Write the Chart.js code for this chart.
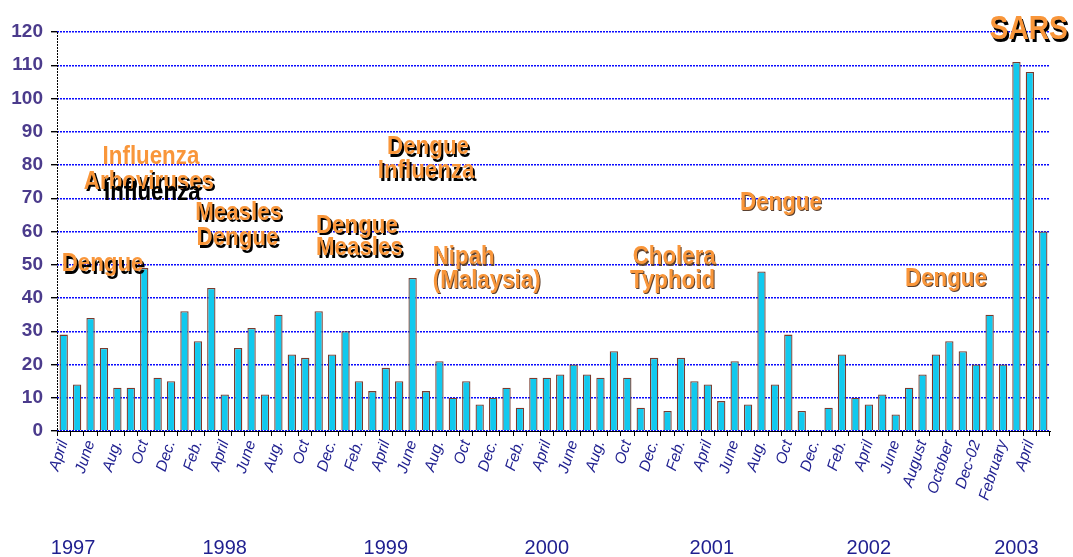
<!DOCTYPE html>
<html>
<head>
<meta charset="utf-8">
<script src="https://cdn.jsdelivr.net/npm/chart.js@4/dist/chart.umd.min.js"></script>
<style>
  html, body { margin: 0; padding: 0; background: #fff; }
  canvas { display: block; }
</style>
</head>
<body>
<canvas id="cases" width="1073" height="557"></canvas>
<script>
// monthly outbreak counts, April 1997 .. May 2003 (Dec 2001 has no bar)
const monthLabels = [
  'April', '', 'June', '', 'Aug.', '', 'Oct', '', 'Dec.', '', 'Feb.', '',
  'April', '', 'June', '', 'Aug.', '', 'Oct', '', 'Dec.', '', 'Feb.', '',
  'April', '', 'June', '', 'Aug.', '', 'Oct', '', 'Dec.', '', 'Feb.', '',
  'April', '', 'June', '', 'Aug.', '', 'Oct', '', 'Dec.', '', 'Feb.', '',
  'April', '', 'June', '', 'Aug.', '', 'Oct', '', 'Dec.', '', 'Feb.', '',
  'April', '', 'June', '', 'August', '', 'October', '', 'Dec-02', '', 'February', '',
  'April', ''
];
const caseCounts = [
  29, 14, 34, 25, 13, 13, 49, 16, 15, 36, 27, 43,
  11, 25, 31, 11, 35, 23, 22, 36, 23, 30, 15, 12,
  19, 15, 46, 12, 21, 10, 15, 8, 10, 13, 7, 16,
  16, 17, 20, 17, 16, 24, 16, 7, 22, 6, 22, 15,
  14, 9, 21, 8, 48, 14, 29, 6, null, 7, 23, 10,
  8, 11, 5, 13, 17, 23, 27, 24, 20, 35, 20, 111,
  108, 60
];
const yTickValues = [0, 10, 20, 30, 40, 50, 60, 70, 80, 90, 100, 110, 120];

const yearLabels = ['1997', '1998', '1999', '2000', '2001', '2002', '2003'];
const yearAt = [0.7, 12, 24, 36, 48.3, 60, 71]; // category index under each year

// outbreak notes: text, category index (left edge), value (middle), shadow strength
const noteTexts = ['Influenza', 'Arboviruses', 'Influenza', 'Measles', 'Dengue', 'Dengue',
  'Dengue', 'Measles', 'Dengue', 'Influenza', 'Nipah', '(Malaysia)', 'Cholera', 'Typhoid',
  'Dengue', 'Dengue', 'SARS'];
const noteAt = [2.9, 1.5, 3.0, 9.8, 9.9, -0.15, 18.8, 18.8, 24.1, 23.4, 27.5, 27.5, 42.4, 42.2,
  50.4, 62.7, 69];
const noteValue = [82.5, 75, 71.8, 65.6, 58, 50.2, 61.7, 55, 85.4, 78.2, 52.3, 45.1, 52.3, 45.1,
  68.6, 45.7, 120.6];
const noteShadow = [0, 2, -1, 2, 2, 2, 2, 2, 2, 2, 1, 1, 1, 1, 1, 1, 2];

const ORANGE = '#f9963a';
const NAVY = '#1f1f8f';

const decorations = {
  id: 'decorations',
  afterDraw(chart) {
    const ctx = chart.ctx;
    const x = chart.scales.x;
    const y = chart.scales.y;
    const area = chart.chartArea;

    // dotted y axis line
    ctx.save();
    ctx.strokeStyle = '#000';
    ctx.lineWidth = 1;
    ctx.setLineDash([2, 1]);
    ctx.beginPath();
    ctx.moveTo(area.left + 0.5, area.top);
    ctx.lineTo(area.left + 0.5, area.bottom);
    ctx.stroke();
    ctx.restore();

    // years under the month labels
    ctx.save();
    ctx.font = '20px "Liberation Sans", Arial, sans-serif';
    ctx.fillStyle = NAVY;
    ctx.textAlign = 'center';
    ctx.textBaseline = 'middle';
    yearLabels.forEach((yr, i) => {
      ctx.fillText(yr, x.getPixelForValue(yearAt[i]), 548);
    });
    ctx.restore();

    // outbreak notes
    noteTexts.forEach((txt, i) => {
      const px = x.getPixelForValue(noteAt[i]);
      const py = y.getPixelForValue(noteValue[i]);
      const big = txt === 'SARS';
      ctx.save();
      ctx.translate(px, py);
      ctx.scale(0.97, 1.15);
      ctx.font = 'bold ' + (big ? 29 : 23) + 'px "Liberation Sans", Arial, sans-serif';
      ctx.textAlign = 'left';
      ctx.textBaseline = 'middle';
      const s = noteShadow[i];
      if (s === -1) {
        ctx.fillStyle = '#000';
        ctx.fillText(txt, 0, 0);
      } else {
        if (s > 0) {
          ctx.fillStyle = s === 2 ? '#000' : '#5a4030';
          ctx.fillText(txt, s, s);
        }
        ctx.fillStyle = ORANGE;
        ctx.fillText(txt, 0, 0);
      }
      ctx.restore();
    });
  }
};

new Chart(document.getElementById('cases').getContext('2d'), {
  type: 'bar',
  data: {
    labels: monthLabels,
    datasets: [{
      data: caseCounts,
      backgroundColor: '#11c9ee',
      borderColor: '#7a3b2e',
      borderWidth: 1.3,
      barPercentage: 0.62,
      categoryPercentage: 1.0
    }]
  },
  options: {
    responsive: false,
    animation: false,
    layout: { padding: { top: 32, right: 23, left: 0, bottom: 0 } },
    plugins: {
      legend: { display: false },
      tooltip: { enabled: false }
    },
    scales: {
      x: {
        offset: true,
        afterFit: (scale) => { scale.height = 126; },
        grid: {
          offset: true,
          drawOnChartArea: false,
          drawTicks: true,
          tickLength: 5,
          tickColor: '#000',
          color: '#000'
        },
        border: { color: '#000', width: 1 },
        ticks: {
          autoSkip: false,
          minRotation: 72,
          maxRotation: 72,
          padding: 2,
          color: NAVY,
          font: { family: '"Liberation Sans", Arial, sans-serif', size: 15.5, style: 'italic' }
        }
      },
      y: {
        min: 0,
        max: 120,
        afterFit: (scale) => { scale.width = 57; },
        afterBuildTicks: (scale) => { scale.ticks = yTickValues.map(v => ({ value: v })); },
        grid: {
          color: '#0a0aff',
          lineWidth: 1.4,
          tickColor: '#000',
          tickLength: 6
        },
        border: { display: false, dash: [2, 1] },
        ticks: {
          padding: 8,
          color: '#4b3b8c',
          font: { family: '"Liberation Sans", Arial, sans-serif', size: 19, weight: 'bold' }
        }
      }
    }
  },
  plugins: [decorations]
});
</script>
</body>
</html>
